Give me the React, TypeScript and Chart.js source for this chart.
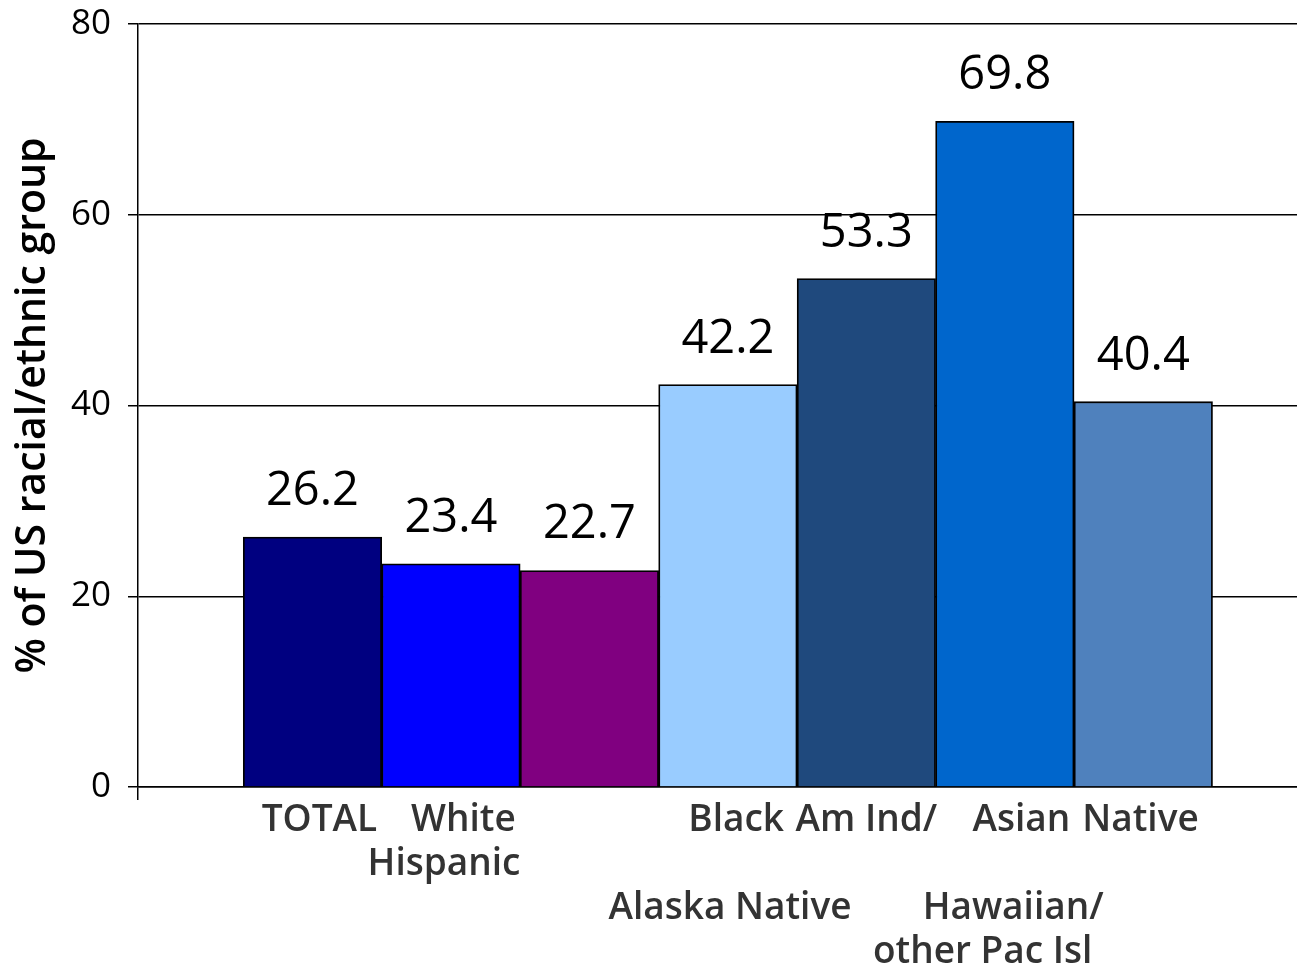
import { useEffect, useRef } from "react";
import { Chart, registerables } from "chart.js";

Chart.register(...registerables);

// Share of each US racial/ethnic group (%)
const groups = [
  "TOTAL",
  "White",
  "Hispanic",
  "Black",
  "Am Ind/Alaska Native",
  "Asian",
  "Native Hawaiian/other Pac Isl",
];
const percentages = [26.2, 23.4, 22.7, 42.2, 53.3, 69.8, 40.4];
const barColors = ["#000080", "#0000FF", "#800080", "#99CCFF", "#1F497D", "#0066CC", "#4F81BD"];
const yTicks = [0, 20, 40, 60, 80];

// Category text under the axis: text, bar it hangs from, shift in bar widths, text row
const axisText = [
  { text: "TOTAL", group: 0, shift: 0.05, row: 0 },
  { text: "White", group: 1, shift: 0.09, row: 0 },
  { text: "Hispanic", group: 1, shift: -0.05, row: 1 },
  { text: "Black", group: 3, shift: 0.06, row: 0 },
  { text: "Alaska Native", group: 3, shift: 0.015, row: 2 },
  { text: "Am Ind/", group: 4, shift: 0.0, row: 0 },
  { text: "Asian", group: 5, shift: 0.12, row: 0 },
  { text: "Hawaiian/", group: 5, shift: 0.06, row: 2 },
  { text: "other Pac Isl", group: 5, shift: -0.16, row: 3 },
  { text: "Native", group: 6, shift: -0.02, row: 0 },
];

const FONT = "'Open Sans', 'Noto Sans', sans-serif";

const valueLabels = {
  id: "valueLabels",
  afterDatasetsDraw(chart: any) {
    const ctx = chart.ctx;
    const meta = chart.getDatasetMeta(0);
    ctx.save();
    ctx.font = `47px ${FONT}`;
    ctx.fillStyle = "#000000";
    ctx.textAlign = "center";
    ctx.textBaseline = "alphabetic";
    meta.data.forEach((bar: any, i: number) => {
      ctx.fillText(percentages[i].toFixed(1), bar.x, bar.y - 32);
    });
    ctx.restore();
  },
};

const categoryText = {
  id: "categoryText",
  afterDraw(chart: any) {
    const ctx = chart.ctx;
    const x = chart.scales.x;
    const bottom = chart.chartArea.bottom;
    ctx.save();
    ctx.font = `600 37px ${FONT}`;
    ctx.fillStyle = "#333333";
    ctx.textAlign = "center";
    ctx.textBaseline = "alphabetic";
    axisText.forEach((t) => {
      const px = x.getPixelForValue(t.group + t.shift);
      ctx.fillText(t.text, px, bottom + 44 + t.row * 44);
    });
    ctx.restore();
  },
};

export default function App() {
  const canvasRef = useRef<HTMLCanvasElement | null>(null);

  useEffect(() => {
    const canvas = canvasRef.current;
    if (!canvas) return;
    const chart = new Chart(canvas, {
      type: "bar",
      data: {
        datasets: [
          {
            label: "% of US racial/ethnic group",
            data: percentages.map((v, i) => ({ x: i, y: v })),
            backgroundColor: barColors,
            borderColor: "#000000",
            borderWidth: 1.8,
            barPercentage: 1,
            categoryPercentage: 1,
          },
        ],
      },
      options: {
        animation: false,
        responsive: false,
        events: [],
        layout: { padding: { top: 24, left: 0, right: 0, bottom: 0 } },
        plugins: {
          legend: { display: false },
          tooltip: { enabled: false },
          title: { display: false },
        },
        scales: {
          x: {
            type: "linear",
            offset: false,
            min: -1.26,
            max: 7.11,
            afterBuildTicks: (scale: any) => {
              scale.ticks = [{ value: scale.min }];
            },
            afterFit: (scale: any) => {
              scale.height = 180;
              scale.paddingLeft = 0;
              scale.paddingRight = 0;
            },
            ticks: { display: false },
            grid: {
              offset: false,
              drawOnChartArea: false,
              drawTicks: true,
              tickLength: 13,
              color: "#000000",
              lineWidth: 1.5,
            },
            border: { display: true, color: "#000000", width: 1.5 },
          },
          y: {
            min: 0,
            max: 80,
            afterBuildTicks: (scale: any) => {
              scale.ticks = yTicks.map((v) => ({ value: v }));
            },
            afterFit: (scale: any) => {
              scale.width = 138;
              scale.paddingTop = 0;
              scale.paddingBottom = 0;
            },
            ticks: {
              color: "#000000",
              font: { family: FONT, size: 35 },
              padding: 17,
            },
            grid: {
              color: "#000000",
              lineWidth: 1.5,
              tickLength: 10,
              drawTicks: true,
            },
            border: { display: true, color: "#000000", width: 1.5 },
            title: {
              display: true,
              text: "% of US racial/ethnic group",
              color: "#000000",
              font: { family: FONT, size: 41, weight: "600", lineHeight: 1.2 },
              padding: { top: 9, bottom: 0 },
            },
          },
        },
      },
      plugins: [valueLabels, categoryText],
    });
    return () => chart.destroy();
  }, []);

  return (
    <div style={{ position: "fixed", left: 0, top: 0, width: 1297, height: 967, background: "#ffffff" }}>
      <canvas ref={canvasRef} width={1297} height={967} style={{ display: "block" }} />
    </div>
  );
}
